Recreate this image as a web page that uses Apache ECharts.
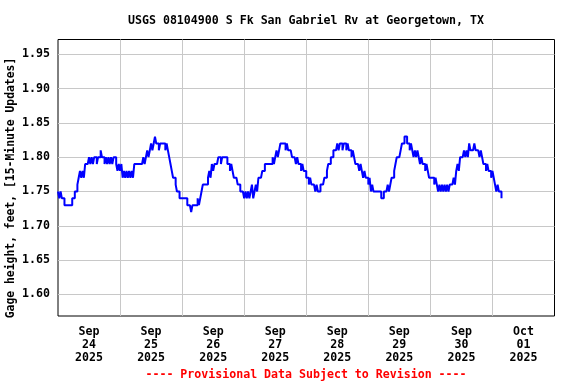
<!DOCTYPE html>
<html>
<head>
<meta charset="utf-8">
<script src="https://cdn.jsdelivr.net/npm/echarts@6/dist/echarts.min.js"></script>
<style>
html,body{margin:0;padding:0;background:#fff;}
#chart{width:576px;height:384px;}
</style>
</head>
<body>
<div id="chart"></div>
<script>
// Gage height readings, one value every 30 minutes, starting at 00:00 of each day
var sep24 = [1.75,1.74,1.75,1.74,1.74,1.73,1.73,1.73,1.73,1.73,1.73,1.74,1.74,1.75,1.75,1.76,
             1.77,1.78,1.77,1.78,1.77,1.79,1.79,1.79,1.80,1.79,1.80,1.79,1.80,1.80,1.79,1.80,
             1.80,1.81,1.80,1.80,1.79,1.80,1.79,1.80,1.79,1.80,1.79,1.80,1.80,1.79,1.78,1.79];
var sep25 = [1.78,1.79,1.77,1.78,1.77,1.78,1.77,1.78,1.77,1.78,1.77,1.79,1.79,1.79,1.79,1.79,
             1.79,1.79,1.80,1.79,1.80,1.81,1.80,1.81,1.82,1.81,1.82,1.83,1.82,1.82,1.81,1.82,
             1.82,1.82,1.82,1.81,1.82,1.81,1.80,1.79,1.78,1.77,1.77,1.76,1.75,1.75,1.74,1.74];
var sep26 = [1.74,1.74,1.74,1.74,1.73,1.73,1.73,1.72,1.73,1.73,1.73,1.73,1.74,1.73,1.74,1.75,
             1.76,1.76,1.76,1.76,1.77,1.78,1.77,1.79,1.78,1.79,1.79,1.79,1.80,1.80,1.79,1.80,
             1.80,1.80,1.80,1.79,1.79,1.78,1.79,1.78,1.77,1.77,1.77,1.76,1.76,1.75,1.75,1.75];
var sep27 = [1.74,1.75,1.74,1.75,1.74,1.75,1.76,1.74,1.75,1.76,1.75,1.77,1.77,1.77,1.78,1.78,
             1.79,1.79,1.79,1.79,1.79,1.79,1.80,1.79,1.80,1.81,1.80,1.81,1.82,1.82,1.82,1.82,
             1.81,1.82,1.81,1.81,1.81,1.80,1.80,1.80,1.79,1.80,1.79,1.79,1.78,1.79,1.78,1.78];
var sep28 = [1.77,1.77,1.76,1.77,1.76,1.76,1.76,1.75,1.76,1.75,1.75,1.76,1.76,1.76,1.77,1.77,
             1.78,1.79,1.79,1.80,1.80,1.81,1.81,1.81,1.82,1.81,1.82,1.82,1.81,1.82,1.82,1.81,
             1.82,1.81,1.81,1.80,1.81,1.80,1.79,1.79,1.79,1.78,1.79,1.78,1.77,1.78,1.77,1.77];
var sep29 = [1.76,1.77,1.75,1.76,1.75,1.75,1.75,1.75,1.75,1.75,1.74,1.74,1.75,1.75,1.75,1.76,
             1.75,1.76,1.77,1.77,1.78,1.79,1.80,1.80,1.80,1.81,1.82,1.82,1.83,1.83,1.82,1.82,
             1.81,1.82,1.81,1.80,1.81,1.80,1.81,1.80,1.79,1.80,1.79,1.79,1.78,1.79,1.78,1.77];
var sep30 = [1.77,1.77,1.77,1.76,1.77,1.76,1.75,1.76,1.75,1.76,1.75,1.76,1.75,1.76,1.75,1.76,
             1.76,1.76,1.77,1.76,1.78,1.79,1.78,1.80,1.80,1.80,1.81,1.80,1.81,1.80,1.82,1.81,
             1.81,1.81,1.82,1.81,1.81,1.81,1.80,1.81,1.80,1.79,1.79,1.78,1.79,1.78,1.78,1.77];
var oct01 = [1.78,1.77,1.76,1.75,1.76,1.75,1.75,1.74];

var days = [sep24, sep25, sep26, sep27, sep28, sep29, sep30, oct01];
var dayLabels = ['Sep\n24\n2025','Sep\n25\n2025','Sep\n26\n2025','Sep\n27\n2025',
                 'Sep\n28\n2025','Sep\n29\n2025','Sep\n30\n2025','Oct\n01\n2025'];
var yTicks = [1.60,1.65,1.70,1.75,1.80,1.85,1.90,1.95];
var dayStarts = [24,48,72,96,120,144,168];       // hours since Sep 24 00:00 (midnight grid lines)
var labelHours = [12,36,60,84,108,132,156,180];  // noon of each day

var seriesData = [];
days.forEach(function(arr, d){
  arr.forEach(function(v, i){ seriesData.push([d*24 + i*0.5, v]); });
});

var FONT = 'DejaVu Sans Mono';
var chart = echarts.init(document.getElementById('chart'), null, {renderer:'canvas'});
chart.setOption({
  animation: false,
  backgroundColor: '#ffffff',
  graphic: [
    {type:'text', x: 306, y: 20.5,
     style:{text:'USGS 08104900 S Fk San Gabriel Rv at Georgetown, TX', align:'center', verticalAlign:'middle',
            font:'bold 11.6px "DejaVu Sans Mono"', fill:'#000'}},
    {type:'text', x: 11, y: 188, rotation: Math.PI/2,
     style:{text:'Gage height, feet, [15-Minute Updates]', align:'center', verticalAlign:'middle',
            font:'bold 11.4px "DejaVu Sans Mono"', fill:'#000'}},
    {type:'text', x: 306, y: 375,
     style:{text:'---- Provisional Data Subject to Revision ----', align:'center', verticalAlign:'middle',
            font:'bold 11.6px "DejaVu Sans Mono"', fill:'#ff0000'}}
  ],
  grid: {left: 58, right: 21.5, top: 39.5, bottom: 68, show: true, borderColor: '#000', borderWidth: 1,
         backgroundColor: 'transparent'},
  xAxis: {
    type: 'value', min: 0, max: 192,
    axisLine: {show: false},
    axisTick: {show: false, customValues: dayStarts},
    splitLine: {show: true, lineStyle: {color: '#c8c8c8', width: 1}},
    axisLabel: {
      customValues: labelHours, margin: 9, lineHeight: 13,
      fontFamily: FONT, fontWeight: 'bold', fontSize: 11.6, color: '#000',
      formatter: function(v){ return dayLabels[Math.round((v-12)/24)]; }
    }
  },
  yAxis: {
    type: 'value', min: 1.5684, max: 1.9716,
    axisLine: {show: false},
    axisTick: {show: false, customValues: yTicks},
    splitLine: {show: true, lineStyle: {color: '#c8c8c8', width: 1}},
    axisLabel: {
      customValues: yTicks, margin: 8,
      fontFamily: FONT, fontWeight: 'bold', fontSize: 11.6, color: '#000',
      formatter: function(v){ return v.toFixed(2); }
    }
  },
  series: [{
    type: 'line', step: 'end', data: seriesData, showSymbol: false,
    lineStyle: {color: '#0000ff', width: 2}, z: 3
  }]
});
</script>
</body>
</html>
